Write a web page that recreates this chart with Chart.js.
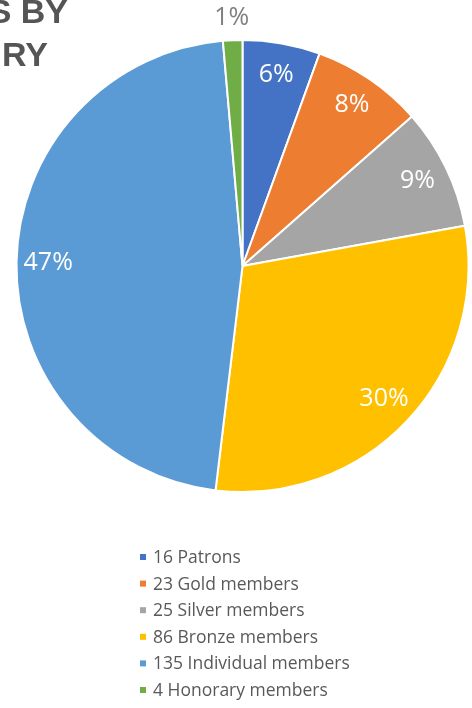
<!DOCTYPE html>
<html>
<head>
<meta charset="utf-8">
<script src="https://cdn.jsdelivr.net/npm/chart.js@4/dist/chart.umd.min.js"></script>
<style>
  html, body { margin:0; padding:0; background:#fff; }
  #pie { display:block; }
</style>
</head>
<body>
<canvas id="pie" width="472" height="708"></canvas>
<script>
/* ---------- data ---------- */
const categories = ['Patrons', 'Gold members', 'Silver members', 'Bronze members', 'Individual members', 'Honorary members'];
const counts     = [16, 23, 25, 86, 135, 4];
const colours    = ['#4472C4', '#ED7D31', '#A5A5A5', '#FFC000', '#5B9BD5', '#70AD47'];
const titleLines = ['S BY', 'RY'];

const legendLabels = categories.map((c, i) => `${counts[i]} ${c}`);
const total = counts.reduce((s, v) => s + v, 0);

const LABEL_FONT  = '25px "Open Sans", sans-serif';
const LEGEND_FONT = '17.5px "Open Sans", sans-serif';

/* ---------- percent labels on slices ---------- */
const sliceLabels = {
  id: 'sliceLabels',
  afterDatasetsDraw(chart) {
    const ctx = chart.ctx;
    const meta = chart.getDatasetMeta(0);
    ctx.save();
    ctx.font = LABEL_FONT;
    ctx.textAlign = 'center';
    ctx.textBaseline = 'middle';
    meta.data.forEach((arc, i) => {
      const { startAngle, endAngle, outerRadius, x, y } =
        arc.getProps(['startAngle', 'endAngle', 'outerRadius', 'x', 'y'], true);
      const share = counts[i] / total;
      const mid = (startAngle + endAngle) / 2;
      const outside = share < 0.03;                // tiny slice -> label sits outside
      const r = outerRadius * (outside ? 1.1 : 0.86);
      ctx.fillStyle = outside ? '#7F7F7F' : '#FFFFFF';
      ctx.fillText(Math.round(share * 100) + '%', x + Math.cos(mid) * r, y + Math.sin(mid) * r);
    });
    ctx.restore();
  }
};

/* ---------- vertical legend under the pie ---------- */
const listLegend = {
  id: 'listLegend',
  afterDraw(chart) {
    const ctx = chart.ctx;
    ctx.save();
    ctx.font = LEGEND_FONT;
    ctx.textBaseline = 'middle';
    ctx.textAlign = 'left';
    legendLabels.forEach((txt, i) => {
      const y = 557 + i * 26.6;
      ctx.fillStyle = colours[i];
      ctx.fillRect(140, y - 3, 6, 6);
      ctx.fillStyle = '#595959';
      ctx.fillText(txt, 153, y + 1);
    });
    ctx.restore();
  }
};

/* ---------- heading (top-left) ---------- */
const heading = {
  id: 'heading',
  afterDraw(chart) {
    const ctx = chart.ctx;
    ctx.save();
    ctx.font = 'bold 34px "Liberation Sans", Arial, sans-serif';
    ctx.fillStyle = '#555555';
    ctx.textAlign = 'right';
    ctx.textBaseline = 'alphabetic';
    ctx.fillText(titleLines[0], 68, 23);
    ctx.fillText(titleLines[1], 48, 66);
    ctx.restore();
  }
};

new Chart(document.getElementById('pie'), {
  type: 'pie',
  data: {
    labels: legendLabels,
    datasets: [{
      data: counts,
      backgroundColor: colours,
      borderColor: '#FFFFFF',
      borderWidth: 2
    }]
  },
  options: {
    responsive: false,
    animation: false,
    layout: { padding: { left: 15, right: 2, top: 39, bottom: 215 } },
    plugins: {
      legend:  { display: false },
      tooltip: { enabled: false }
    }
  },
  plugins: [sliceLabels, listLegend, heading]
});
</script>
</body>
</html>
